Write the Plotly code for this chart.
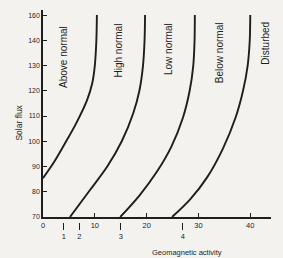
import plotly.graph_objects as go

# Boundary curves: geomagnetic activity (x) vs solar flux (y)
above_x = [0.0, 2.2, 4.2, 6.5, 8.5, 9.5, 10.0, 10.3, 10.4]
above_y = [85.4, 92.0, 99.0, 107.5, 116.3, 123.0, 130.0, 140.0, 150.0]

high_x = [5.2, 9.0, 12.4, 15.2, 17.4, 18.6, 19.3, 19.6, 19.7]
high_y = [70.0, 80.5, 90.0, 100.0, 111.0, 120.0, 130.0, 140.0, 150.0]

low_x = [14.9, 18.6, 22.0, 24.8, 27.0, 28.3, 29.0, 29.25, 29.3]
low_y = [70.0, 78.5, 88.0, 98.0, 109.3, 120.0, 130.0, 140.0, 150.0]

below_x = [24.9, 28.4, 31.7, 34.7, 37.2, 38.6, 39.5, 39.9, 40.0]
below_y = [70.0, 77.0, 85.8, 97.0, 109.6, 120.0, 130.0, 140.0, 150.0]

# Axis ticks
x_ticks = [0, 10, 20, 30, 40]
y_tick_vals = [70, 80, 90, 100, 110, 120, 130, 140, 150]
y_tick_text = ["70", "80", "90", "100", "110", "120", "130", "140", "160"]

# Kp index equivalents on the activity axis
kp_ap = [4, 7, 15, 27]
kp_labels = ["1", "2", "3", "4"]

# Region labels
region_names = ["Above normal", "High normal", "Low normal", "Below normal", "Disturbed"]
region_x = [3.9, 14.5, 24.1, 34.2, 43.0]
region_y = [133.5, 136.0, 136.5, 135.0, 139.0]

ink = "#1e1e1e"
bg = "#f4f2ee"
font_family = "Liberation Sans, Arial, sans-serif"

fig = go.Figure()
for xs, ys in [(above_x, above_y), (high_x, high_y), (low_x, low_y), (below_x, below_y)]:
    fig.add_trace(go.Scatter(x=xs, y=ys, mode="lines",
                             line=dict(color=ink, width=1.9, shape="spline", smoothing=0.9),
                             hoverinfo="skip", showlegend=False))

# invisible trace on the Kp axis so it renders
fig.add_trace(go.Scatter(x=kp_ap, y=[70] * len(kp_ap), xaxis="x2", mode="markers",
                         marker=dict(opacity=0), hoverinfo="skip", showlegend=False))

for name, xv, yv in zip(region_names, region_x, region_y):
    fig.add_annotation(x=xv, y=yv, xref="x", yref="y", text=name, textangle=-90,
                       showarrow=False, font=dict(size=10, color=ink, family=font_family))

fig.add_annotation(x=27.8, y=-0.13, xref="x", yref="paper", text="Geomagnetic activity",
                   showarrow=False, font=dict(size=7.5, color=ink, family=font_family))
fig.add_annotation(x=-0.135, y=107.5, xref="paper", yref="y", text="Solar flux", textangle=-90,
                   showarrow=False, font=dict(size=8.5, color=ink, family=font_family))

fig.update_layout(
    width=283, height=258,
    margin=dict(l=43, r=12, t=10, b=28),
    paper_bgcolor=bg, plot_bgcolor=bg,
    font=dict(family=font_family, color=ink, size=7.5),
    xaxis=dict(range=[0, 44], tickvals=x_ticks, ticks="inside", ticklen=4, tickcolor=ink,
               showline=True, linecolor=ink, linewidth=1.5, showgrid=False, zeroline=False,
               anchor="y", tickfont=dict(size=7.5), automargin=False),
    xaxis2=dict(range=[0, 44], overlaying="x", anchor="free", position=0.036, side="bottom",
                tickvals=kp_ap, ticktext=kp_labels, ticks="outside", ticklen=7, tickcolor=ink,
                tickwidth=1, showline=False, showgrid=False, zeroline=False,
                tickfont=dict(size=7.5), automargin=False),
    yaxis=dict(range=[70, 152], domain=[0.059, 1], tickvals=y_tick_vals, ticktext=y_tick_text,
               ticks="inside", ticklen=4, tickcolor=ink, showline=True, linecolor=ink,
               linewidth=1.5, showgrid=False, zeroline=False, tickfont=dict(size=7),
               automargin=False),
)

fig.write_html("out.html", config={"displayModeBar": False},
               post_script="document.body.style.margin='0';document.body.style.background='%s';" % bg)
